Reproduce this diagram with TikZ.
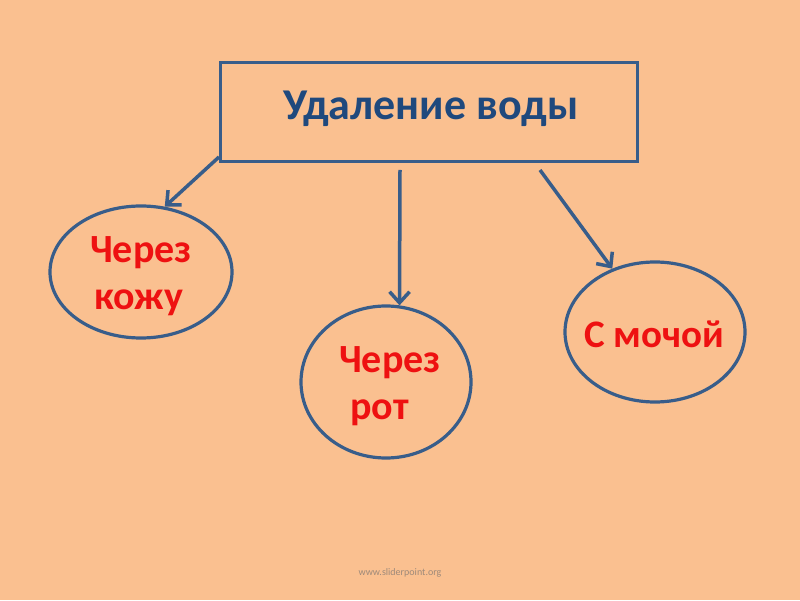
\documentclass[tikz,border=0pt]{standalone}
\usepackage{fontspec}
\setmainfont{Carlito}
\usetikzlibrary{arrows.meta,shapes.geometric}
\definecolor{bg}{HTML}{FAC090}
\definecolor{lineblue}{HTML}{385D8A}
\definecolor{titleblue}{HTML}{1F497D}
\definecolor{txtred}{HTML}{EE1111}
\definecolor{wm}{HTML}{9E8A7A}
\tikzset{
  oval/.style={draw=lineblue, line width=3.2pt, ellipse, inner sep=0pt},
  conn/.style={draw=lineblue, line width=3.5pt, -{Straight Barb[length=11pt,width=20pt,line width=3.5pt]}},
  redtxt/.style={text=txtred, font=\bfseries\fontsize{40}{44}\selectfont, inner sep=0pt, anchor=base west},
}
\begin{document}
\begin{tikzpicture}[x=1pt,y=1pt]
\fill[bg] (0,0) rectangle (800,600);
\useasboundingbox (0,0) rectangle (800,600);
% title box
\node[draw=lineblue, line width=3pt, minimum width=417pt, minimum height=99pt, inner sep=0pt] (box) at (428.5,487.5) {};
\node[text=titleblue, font=\bfseries\fontsize{44}{50}\selectfont, inner sep=0pt, anchor=base] (title) at (431,480) {Удаление воды};
% ovals
\node[oval, minimum width=182pt, minimum height=132pt] (e1) at (141,328) {};
\node[oval, minimum width=170pt, minimum height=152pt] (e2) at (386,218) {};
\node[oval, minimum width=180pt, minimum height=140pt] (e3) at (655,268) {};
% texts
\node[redtxt] (t1a) at (90,337) {Через};
\node[redtxt] (t1b) at (94,290) {кожу};
\node[redtxt] (t2a) at (339,227) {Через};
\node[redtxt] (t2b) at (350,181) {рот};
\node[redtxt, font=\bfseries\fontsize{39}{44}\selectfont] (t3) at (584,252) {С мочой};
% arrow start points
\coordinate (s1) at (219,443);
\coordinate (s2) at (400,430);
\coordinate (s3) at (540,430);
% connectors
\draw[conn] (s1) -- (e1.70);
\draw[conn] (s2) -- (e2.80);
\draw[conn] (s3) -- (e3.124);
% watermark
\node[text=wm, font=\fontsize{10}{12}\selectfont, inner sep=0pt] (wmk) at (400,27) {www.sliderpoint.org};
\end{tikzpicture}
\end{document}
